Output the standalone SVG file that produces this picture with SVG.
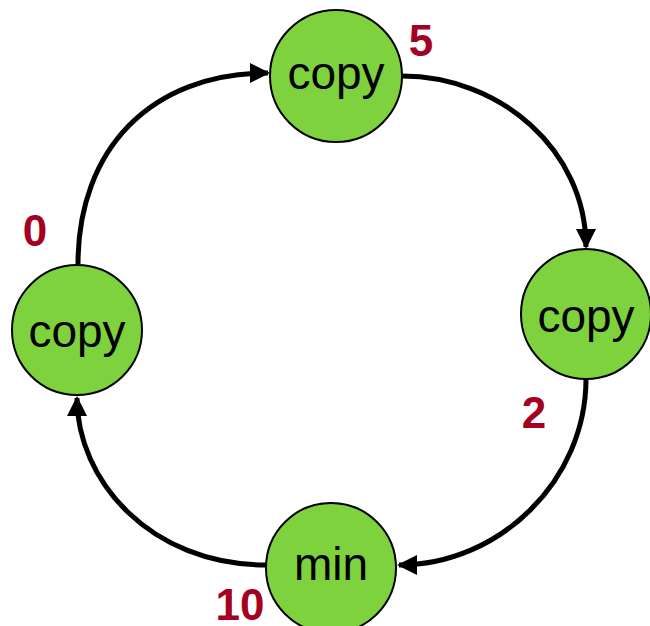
<svg xmlns="http://www.w3.org/2000/svg" width="650" height="626" viewBox="0 0 650 626">
  <style>
    .node circle { fill: #7ed23e; stroke: #000; stroke-width: 2; }
    .node text { font-family: "Liberation Sans", Arial, sans-serif; font-size: 46px; fill: #000; text-anchor: middle; }
    .edge { fill: none; stroke: #000; stroke-width: 5; marker-end: url(#arrow); }
    .weight { font-family: "Liberation Sans", Arial, sans-serif; font-size: 44px; font-weight: bold; fill: #a50021; text-anchor: middle; }
  </style>
  <defs>
    <marker id="arrow" viewBox="0 0 10 10" refX="9" refY="5" markerWidth="4" markerHeight="4" orient="auto" markerUnits="strokeWidth">
      <path d="M0,0 L10,5 L0,10 z" fill="#000"/>
    </marker>
  </defs>
  <rect width="650" height="626" fill="#fff"/>
  <g id="connectors">
    <path class="edge" d="M78,264 C78,150 150,73 268,73"/>
    <path class="edge" d="M402,76 C500,76 586,150 586,247"/>
    <path class="edge" d="M586,379 C586,480 500,565 399,565"/>
    <path class="edge" d="M266,565 C150,565 77,480 77,398"/>
  </g>
  <g id="node-top" class="node">
    <circle cx="336" cy="76" r="66"/>
    <text x="336" y="89">copy</text>
  </g>
  <g id="node-right" class="node">
    <circle cx="586" cy="314" r="65"/>
    <text x="586" y="332">copy</text>
  </g>
  <g id="node-bottom" class="node">
    <circle cx="331" cy="568" r="65"/>
    <text x="331" y="580">min</text>
  </g>
  <g id="node-left" class="node">
    <circle cx="77" cy="330" r="65"/>
    <text x="77" y="347">copy</text>
  </g>
  <g id="weights">
    <text class="weight" x="421" y="56">5</text>
    <text class="weight" x="35" y="246">0</text>
    <text class="weight" x="534" y="428">2</text>
    <text class="weight" x="240" y="620">10</text>
  </g>
</svg>
